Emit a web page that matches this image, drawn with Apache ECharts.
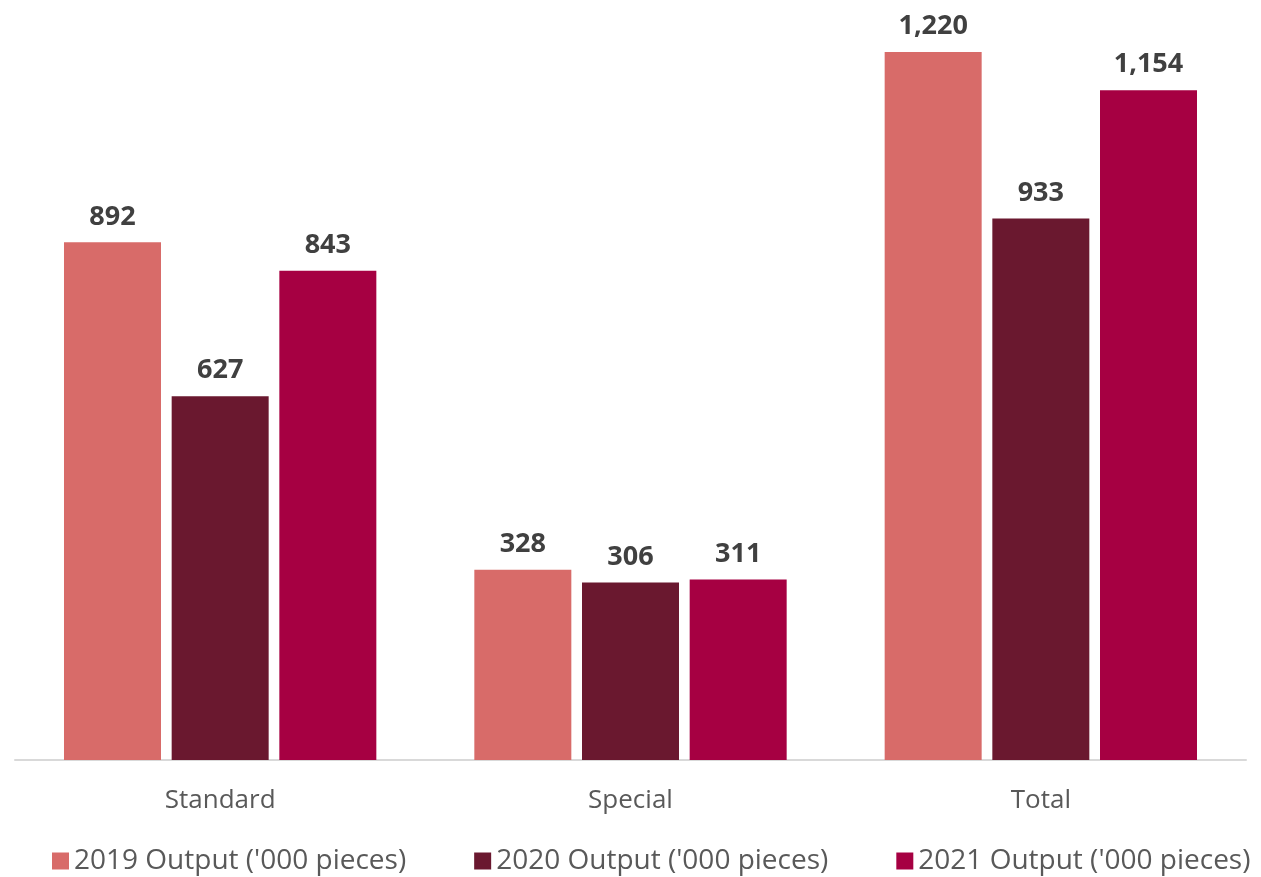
<!DOCTYPE html>
<html>
<head>
<meta charset="utf-8">
<script src="https://cdn.jsdelivr.net/npm/echarts@6/dist/echarts.min.js"></script>
<style>
  html, body { margin: 0; padding: 0; background: #ffffff; }
  #chart { width: 1261px; height: 877px; }
</style>
</head>
<body>
<div id="chart"></div>
<script>
// Output by product type, in thousands of pieces
const categories = ['Standard', 'Special', 'Total'];
const seriesNames = ["2019 Output ('000 pieces)", "2020 Output ('000 pieces)", "2021 Output ('000 pieces)"];
const output2019 = [892, 328, 1220];
const output2020 = [627, 306, 933];
const output2021 = [843, 311, 1154];
const seriesColors = ['#D86B69', '#6A182F', '#A60042'];

const font = '"Open Sans", "Noto Sans", sans-serif';
const values = [output2019, output2020, output2021];

const chart = echarts.init(document.getElementById('chart'), null, { renderer: 'canvas' });

chart.setOption({
  animation: false,
  backgroundColor: '#ffffff',
  grid: { left: 15, right: 15, top: 52, bottom: 117, containLabel: false },
  legend: {
    bottom: -3,
    left: 47,
    itemWidth: 17,
    itemHeight: 17,
    itemGap: 68,
    icon: 'rect',
    textStyle: { fontFamily: font, fontSize: 28, color: '#595959' },
    data: seriesNames
  },
  xAxis: {
    type: 'category',
    data: categories,
    axisLine: { lineStyle: { color: '#D9D9D9', width: 2 } },
    axisTick: { show: false },
    axisLabel: { fontFamily: font, fontSize: 26, color: '#595959', margin: 28 }
  },
  yAxis: {
    type: 'value',
    min: 0,
    max: 1220,
    show: false,
    splitLine: { show: false }
  },
  series: seriesNames.map((name, i) => ({
    name: name,
    type: 'bar',
    data: values[i],
    barWidth: 97,
    barGap: '11%',
    itemStyle: { color: seriesColors[i] },
    label: {
      show: true,
      position: 'top',
      distance: 12,
      fontFamily: font,
      fontSize: 27,
      fontWeight: 'bold',
      color: '#404040',
      formatter: p => p.value.toLocaleString('en-US')
    }
  }))
});
</script>
</body>
</html>
